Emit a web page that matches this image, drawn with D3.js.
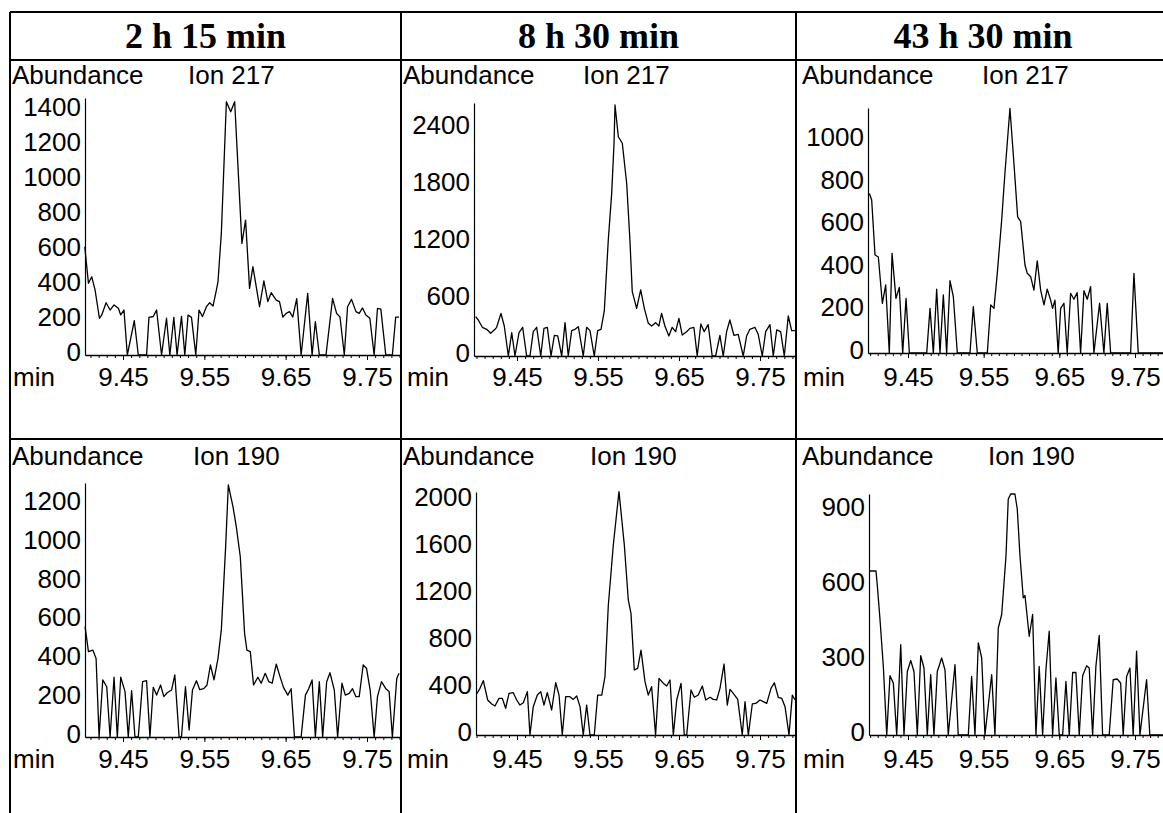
<!DOCTYPE html>
<html><head><meta charset="utf-8">
<script src="https://cdn.jsdelivr.net/npm/d3@7"></script>
<style>body{margin:0;background:#fff}svg{display:block}</style>
</head><body>
<svg id="c" width="1163" height="813"></svg>
<script>
// ---------- DATA ----------
const columnTitles = ["2 h 15 min", "8 h 30 min", "43 h 30 min"];
const ionLabels = ["Ion 217", "Ion 190"];
const yAxisTitle = "Abundance";
const xAxisTitle = "min";
const xTickValues = [9.45, 9.55, 9.65, 9.75];

const yTicks217_2h15 = [0, 200, 400, 600, 800, 1000, 1200, 1400];
const yTicks217_8h30 = [0, 600, 1200, 1800, 2400];
const yTicks217_43h30 = [0, 200, 400, 600, 800, 1000];
const yTicks190_2h15 = [0, 200, 400, 600, 800, 1000, 1200];
const yTicks190_8h30 = [0, 400, 800, 1200, 1600, 2000];
const yTicks190_43h30 = [0, 300, 600, 900];

// [retention time (min), abundance]
const ion217_2h15 = [[9.403,619],[9.4075,410],[9.4116,447],[9.4157,371],[9.4210,210],[9.4239,229],[9.4292,299],[9.4341,257],[9.4390,286],[9.4443,267],[9.4472,229],[9.4512,257],[9.4553,0],[9.4639,196],[9.4688,0],[9.4790,0],[9.4819,215],[9.4872,220],[9.4913,257],[9.4974,0],[9.5035,210],[9.5076,0],[9.5125,215],[9.5165,0],[9.5219,221],[9.5260,0],[9.5300,229],[9.5342,215],[9.5395,0],[9.5435,257],[9.5477,220],[9.5526,276],[9.5566,299],[9.5607,280],[9.5648,371],[9.5668,419],[9.5709,695],[9.5771,1448],[9.5824,1390],[9.5873,1448],[9.5962,638],[9.6007,771],[9.6056,381],[9.6097,505],[9.6179,276],[9.6232,423],[9.6281,305],[9.6322,356],[9.6384,314],[9.6424,305],[9.6465,217],[9.6506,238],[9.6547,248],[9.6587,217],[9.6636,322],[9.6690,0],[9.6771,352],[9.6825,0],[9.6865,190],[9.6914,0],[9.6996,0],[9.7077,324],[9.7126,238],[9.7168,217],[9.7221,0],[9.7261,276],[9.7310,318],[9.7364,248],[9.7404,238],[9.7445,269],[9.7486,229],[9.7535,210],[9.7588,0],[9.7629,267],[9.7670,262],[9.7731,0],[9.7812,0],[9.7853,217],[9.7894,217]];

const ion217_8h30 = [[9.399,414],[9.4022,379],[9.4072,302],[9.4126,281],[9.4175,239],[9.4228,281],[9.4249,302],[9.4302,449],[9.4343,316],[9.4393,0],[9.4435,246],[9.4475,0],[9.4525,246],[9.4570,302],[9.4619,0],[9.4660,0],[9.4701,256],[9.4743,302],[9.4793,0],[9.4833,291],[9.4874,302],[9.4920,0],[9.4961,218],[9.5003,211],[9.5052,0],[9.5093,351],[9.5133,0],[9.5175,267],[9.5216,281],[9.5257,309],[9.5318,0],[9.5360,302],[9.5401,267],[9.5454,0],[9.5496,267],[9.5537,281],[9.5578,477],[9.5627,1221],[9.5669,1712],[9.5698,2239],[9.5710,2642],[9.5751,2308],[9.5800,2239],[9.5854,1818],[9.5894,1221],[9.5923,677],[9.5977,502],[9.6027,695],[9.6072,502],[9.6121,344],[9.6162,316],[9.6211,351],[9.6252,316],[9.6285,449],[9.6326,316],[9.6375,211],[9.6416,302],[9.6458,256],[9.6499,396],[9.6540,221],[9.6594,256],[9.6635,291],[9.6684,302],[9.6725,0],[9.6770,337],[9.6811,256],[9.6860,330],[9.6910,0],[9.6952,0],[9.7005,218],[9.7046,0],[9.7088,256],[9.7128,379],[9.7178,218],[9.7231,228],[9.7293,0],[9.7335,211],[9.7375,281],[9.7437,302],[9.7478,228],[9.7528,0],[9.7570,256],[9.7623,330],[9.7664,0],[9.7706,274],[9.7755,256],[9.7800,0],[9.7849,421],[9.7891,267],[9.7931,267]];

const ion217_43h30 = [[9.399,751],[9.402,720],[9.4064,461],[9.4108,452],[9.4161,234],[9.4205,320],[9.4253,0],[9.4289,469],[9.4341,257],[9.4385,309],[9.4430,0],[9.4474,257],[9.4518,0],[9.4747,0],[9.4791,210],[9.4835,0],[9.4879,300],[9.4923,0],[9.4967,273],[9.5011,0],[9.5055,340],[9.5099,265],[9.5152,0],[9.5319,0],[9.5363,218],[9.5416,0],[9.5548,0],[9.5593,226],[9.5636,210],[9.5680,375],[9.5738,626],[9.5781,846],[9.5847,1151],[9.5900,893],[9.5949,641],[9.5989,618],[9.6046,414],[9.6076,375],[9.6121,359],[9.6164,296],[9.6208,434],[9.6253,296],[9.6297,226],[9.6340,300],[9.6385,249],[9.6411,210],[9.6442,249],[9.6485,0],[9.6517,210],[9.6561,234],[9.6604,0],[9.6649,281],[9.6693,253],[9.6736,284],[9.6781,0],[9.6825,293],[9.6869,253],[9.6913,312],[9.6957,0],[9.7032,234],[9.7089,0],[9.7133,234],[9.7178,0],[9.7442,0],[9.7486,375],[9.7543,0],[9.787,0]];

const ion190_2h15 = [[9.4034,569],[9.4075,440],[9.4129,448],[9.4169,405],[9.4206,0],[9.4251,294],[9.4300,259],[9.4341,0],[9.4390,308],[9.4430,0],[9.4472,308],[9.4525,234],[9.4565,0],[9.4606,239],[9.4647,0],[9.4688,0],[9.4741,285],[9.4790,290],[9.4831,0],[9.4872,256],[9.4913,216],[9.4962,268],[9.5002,208],[9.5043,228],[9.5097,242],[9.5137,320],[9.5190,0],[9.5219,0],[9.5268,259],[9.5313,36],[9.5354,242],[9.5403,290],[9.5444,244],[9.5493,249],[9.5533,268],[9.5575,371],[9.5619,294],[9.5668,405],[9.5709,552],[9.5762,981],[9.5795,1299],[9.5852,1187],[9.5893,1084],[9.5942,929],[9.5995,534],[9.6023,448],[9.6065,440],[9.6105,268],[9.6158,308],[9.6199,277],[9.6249,328],[9.6293,285],[9.6334,277],[9.6384,376],[9.6424,320],[9.6473,256],[9.6526,216],[9.6567,249],[9.6608,0],[9.6690,0],[9.6743,216],[9.6783,249],[9.6825,294],[9.6865,0],[9.6914,285],[9.6955,0],[9.7004,285],[9.7045,331],[9.7098,242],[9.7139,0],[9.7192,277],[9.7233,216],[9.7282,225],[9.7322,249],[9.7364,208],[9.7404,208],[9.7453,371],[9.7494,354],[9.7539,242],[9.7588,0],[9.7629,208],[9.7678,285],[9.7731,249],[9.7772,234],[9.7812,0],[9.7866,302],[9.7894,328]];

const ion190_8h30 = [[9.4002,349],[9.4043,397],[9.4084,462],[9.4138,298],[9.4188,264],[9.4228,247],[9.4278,312],[9.4319,312],[9.4360,227],[9.4401,355],[9.4454,360],[9.4496,298],[9.4537,255],[9.4578,275],[9.4628,369],[9.4660,0],[9.4701,241],[9.4751,340],[9.4793,369],[9.4833,255],[9.4874,360],[9.4928,213],[9.4978,445],[9.5019,340],[9.5059,0],[9.5101,326],[9.5154,326],[9.5195,303],[9.5237,332],[9.5278,241],[9.5318,0],[9.5360,255],[9.5401,0],[9.5454,0],[9.5496,340],[9.5546,340],[9.5586,496],[9.5627,1100],[9.5689,1617],[9.5759,2071],[9.5825,1617],[9.5874,1149],[9.5907,1035],[9.5948,553],[9.5990,567],[9.6031,723],[9.6080,454],[9.6121,340],[9.6162,411],[9.6211,0],[9.6253,482],[9.6306,440],[9.6348,417],[9.6389,468],[9.6430,0],[9.6472,298],[9.6525,440],[9.6565,0],[9.6595,0],[9.6648,383],[9.6689,321],[9.6738,340],[9.6788,417],[9.6830,298],[9.6883,321],[9.6923,303],[9.6965,298],[9.7006,397],[9.7056,604],[9.7096,255],[9.7130,389],[9.7170,355],[9.7225,303],[9.7281,0],[9.7315,284],[9.7356,0],[9.7405,264],[9.7447,269],[9.7500,298],[9.7541,284],[9.7583,269],[9.7636,397],[9.7677,445],[9.7726,321],[9.7768,312],[9.7809,241],[9.7858,0],[9.7899,340],[9.7932,298]];

const ion190_43h30 = [[9.399,656],[9.4077,656],[9.4094,600],[9.4130,462],[9.4174,274],[9.4219,0],[9.4262,237],[9.4306,208],[9.4351,0],[9.4404,361],[9.4447,0],[9.4491,254],[9.4536,298],[9.4579,254],[9.4623,0],[9.4668,317],[9.4711,268],[9.4755,0],[9.4800,241],[9.4843,0],[9.4887,254],[9.4945,308],[9.4989,260],[9.5032,0],[9.5121,281],[9.5164,0],[9.5297,0],[9.5341,234],[9.5385,0],[9.5429,368],[9.5474,308],[9.5517,0],[9.5606,241],[9.5649,0],[9.5693,428],[9.5738,482],[9.5795,716],[9.5825,944],[9.5857,964],[9.5913,964],[9.5944,904],[9.5980,716],[9.6023,549],[9.6046,558],[9.6102,395],[9.6147,482],[9.6191,0],[9.6234,274],[9.6279,0],[9.6323,261],[9.6366,415],[9.6411,0],[9.6455,228],[9.6499,0],[9.6544,0],[9.6587,214],[9.6631,0],[9.6676,250],[9.6719,250],[9.6763,0],[9.6808,237],[9.6861,277],[9.6895,268],[9.6940,0],[9.6983,274],[9.7027,398],[9.7072,0],[9.7159,0],[9.7212,221],[9.7265,224],[9.7310,208],[9.7344,0],[9.7389,234],[9.7433,268],[9.7476,0],[9.7521,335],[9.7565,0],[9.7653,221],[9.7696,0],[9.7869,0]];

// ---------- LAYOUT ----------
const cols = [
  {title: 205.5, text: 12, ion: 188, ion2: 193, x945: 123, x975: 367, axisL: 85, axisR: 400},
  {title: 598.5, text: 403, ion: 583, ion2: 590, x945: 517, x975: 760, axisL: 474, axisR: 795},
  {title: 983, text: 802, ion: 982, ion2: 988, x945: 908, x975: 1135, axisL: 868, axisR: 1163}
];
const panels = [
  {c: 0, r: 0, data: ion217_2h15, ticks: yTicks217_2h15, yMax: 1469, yB: 355, yT: 98},
  {c: 1, r: 0, data: ion217_8h30, ticks: yTicks217_8h30, yMax: 2663, yB: 356, yT: 103},
  {c: 2, r: 0, data: ion217_43h30, ticks: yTicks217_43h30, yMax: 1153, yB: 353, yT: 108},
  {c: 0, r: 1, data: ion190_2h15, ticks: yTicks190_2h15, yMax: 1309, yB: 737, yT: 483, xL: 85},
  {c: 1, r: 1, data: ion190_8h30, ticks: yTicks190_8h30, yMax: 2068, yB: 735, yT: 492, xL: 476},
  {c: 2, r: 1, data: ion190_43h30, ticks: yTicks190_43h30, yMax: 964, yB: 735, yT: 494, xL: 869}
];
const rowText = [{abund: 84, labelBase: 386}, {abund: 465, labelBase: 768}];

const FONT = "'Liberation Sans', Arial, Helvetica, sans-serif";
const svg = d3.select("#c");

// table frame
const frame = svg.append("g").attr("stroke", "#000").attr("stroke-width", 2);
frame.append("line").attr("x1", 10).attr("x2", 1163).attr("y1", 12).attr("y2", 12);
frame.append("line").attr("x1", 10).attr("x2", 1163).attr("y1", 60).attr("y2", 60);
frame.append("line").attr("x1", 10).attr("x2", 1163).attr("y1", 439).attr("y2", 439);
[10, 401, 796].forEach(xx => frame.append("line").attr("x1", xx).attr("x2", xx).attr("y1", 12).attr("y2", 813));

// titles
svg.selectAll("text.coltitle").data(columnTitles).join("text")
  .attr("class", "coltitle")
  .attr("x", (d, i) => cols[i].title).attr("y", 48)
  .attr("text-anchor", "middle")
  .attr("font-family", "'Liberation Serif', 'Times New Roman', serif")
  .attr("font-weight", "bold").attr("font-size", 36)
  .text(d => d);

panels.forEach(p => {
  const col = cols[p.c];
  const rt = rowText[p.r];
  const xLeft = p.xL || col.axisL, xRight = col.axisR;
  const x = d3.scaleLinear().domain([9.45, 9.75]).range([col.x945, col.x975]);
  const t0 = x.invert(xLeft), t1 = x.invert(xRight);
  x.domain([t0, t1]).range([xLeft, xRight]);
  const y = d3.scaleLinear().domain([0, p.yMax]).range([p.yB, p.yT]);
  const g = svg.append("g");

  // minor x ticks
  const minor = d3.range(940, 980).map(d => d / 100).filter(t => t >= t0 && t <= t1);
  g.append("g").attr("transform", `translate(0,${p.yB})`)
    .call(d3.axisBottom(x).tickValues(minor).tickSize(3).tickFormat(""))
    .call(s => s.select(".domain").remove())
    .selectAll("line").attr("stroke-width", 1);

  // major x axis
  const xa = g.append("g").attr("transform", `translate(0,${p.yB})`)
    .call(d3.axisBottom(x).tickValues(xTickValues).tickSize(5).tickSizeOuter(0).tickFormat(d3.format(".2f")))
    .attr("font-family", FONT).attr("font-size", 26);
  xa.select(".domain").attr("stroke-width", 1.6);
  xa.selectAll("text").attr("dy", null).attr("y", rt.labelBase - p.yB).attr("fill", "#000");

  // y axis
  const ya = g.append("g").attr("transform", `translate(${xLeft},0)`)
    .call(d3.axisLeft(y).tickValues(p.ticks).tickSize(0).tickSizeOuter(0).tickPadding(4).tickFormat(d3.format("d")))
    .attr("font-family", FONT).attr("font-size", 26);
  ya.select(".domain").attr("stroke-width", 1.2);
  ya.selectAll("text").attr("y", -3).attr("fill", "#000");

  // trace
  g.append("path").datum(p.data)
    .attr("fill", "none").attr("stroke", "#000").attr("stroke-width", 1.3)
    .attr("stroke-linejoin", "round")
    .attr("d", d3.line().x(d => x(d[0])).y(d => y(d[1])));

  // labels
  g.append("text").attr("x", col.text).attr("y", rt.abund)
    .attr("font-family", FONT).attr("font-size", 26).text(yAxisTitle);
  g.append("text").attr("x", p.r === 0 ? col.ion : col.ion2).attr("y", rt.abund)
    .attr("font-family", FONT).attr("font-size", 26).text(ionLabels[p.r]);
  g.append("text").attr("x", col.text + (p.c === 1 ? 4 : 1)).attr("y", rt.labelBase)
    .attr("font-family", FONT).attr("font-size", 26).text(xAxisTitle);
});
</script>
</body></html>
